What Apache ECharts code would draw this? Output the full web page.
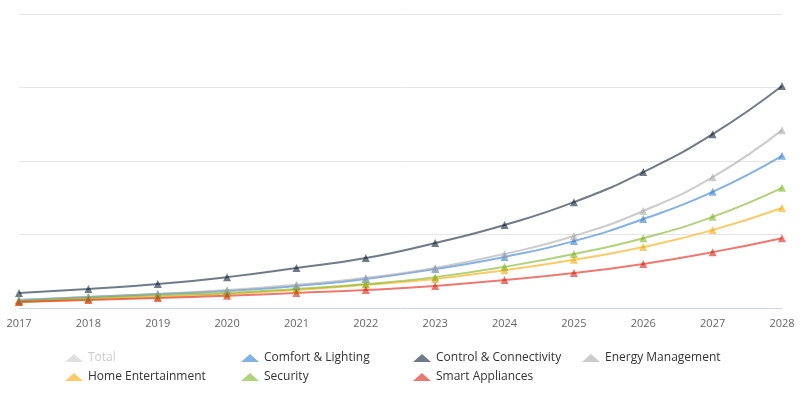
<!DOCTYPE html>
<html><head><meta charset="utf-8">
<script src="https://cdn.jsdelivr.net/npm/echarts@6/dist/echarts.min.js"></script>
<style>html,body{margin:0;padding:0;background:#fff}#c{width:809px;height:419px}</style>
</head><body><div id="c"></div>
<script>
var years = ['2017','2018','2019','2020','2021','2022','2023','2024','2025','2026','2027','2028'];
var comfort = [2.2, 3.0, 3.8, 4.6, 6.0, 7.9, 10.6, 13.9, 18.2, 24.2, 31.6, 41.4];
var control = [4.1, 5.2, 6.5, 8.4, 10.9, 13.6, 17.7, 22.6, 28.8, 37.0, 47.3, 60.4];
var energy = [2.2, 3.0, 3.8, 4.9, 6.3, 8.2, 10.9, 14.7, 19.6, 26.4, 35.6, 48.4];
var home = [1.6, 2.4, 3.0, 3.8, 4.9, 6.3, 7.9, 10.3, 13.1, 16.6, 21.2, 27.2];
var security = [1.9, 2.7, 3.5, 4.1, 5.2, 6.5, 8.4, 11.2, 14.7, 19.0, 24.8, 32.7];
var smart = [1.6, 2.2, 2.7, 3.3, 4.1, 4.9, 6.0, 7.6, 9.5, 12.0, 15.2, 19.0];
var total = years.map(function (y, i) { return comfort[i] + control[i] + energy[i] + home[i] + security[i] + smart[i]; });

var names = ['Total','Comfort & Lighting','Control & Connectivity','Energy Management','Home Entertainment','Security','Smart Appliances'];
var colors = ['#bbbbbb','#2f7ed8','#0d233a','#aaaaaa','#f7a800','#7cb520','#e02010'];
var values = [total, comfort, control, energy, home, security, smart];
var legendPos = [[60,347],[236,347],[408,347],[577,347],[60,366],[236,366],[408,366]];

var series = names.map(function (n, i) {
  return {
    name: n, type: 'line', data: values[i], smooth: true,
    symbol: 'triangle', symbolSize: 8,
    lineStyle: { width: 2, color: colors[i], opacity: 0.6 },
    itemStyle: { color: colors[i], opacity: 0.6 }
  };
});
var legends = names.map(function (n, i) {
  return {
    data: [n], left: legendPos[i][0], top: legendPos[i][1],
    itemWidth: 18, itemHeight: 8, icon: 'triangle',
    textStyle: { color: '#333', fontSize: 12, fontFamily: 'Open Sans' },
    inactiveColor: '#ccc',
    selected: { 'Total': false }
  };
});

var chart = echarts.init(document.getElementById('c'));
chart.setOption({
  animation: false,
  color: colors,
  legend: legends,
  grid: { left: 19, right: 27, top: 14, bottom: 111 },
  xAxis: {
    type: 'category', data: years, boundaryGap: false,
    axisLine: { lineStyle: { color: '#ccd6eb' } },
    axisTick: { show: false },
    axisLabel: { color: '#666', fontSize: 11, fontFamily: 'Open Sans', margin: 10 }
  },
  yAxis: {
    type: 'value', min: 0, max: 80, interval: 20,
    axisLabel: { show: false },
    axisLine: { show: false }, axisTick: { show: false },
    splitLine: { lineStyle: { color: '#e6e6e6' } }
  },
  series: series
});
</script></body></html>
